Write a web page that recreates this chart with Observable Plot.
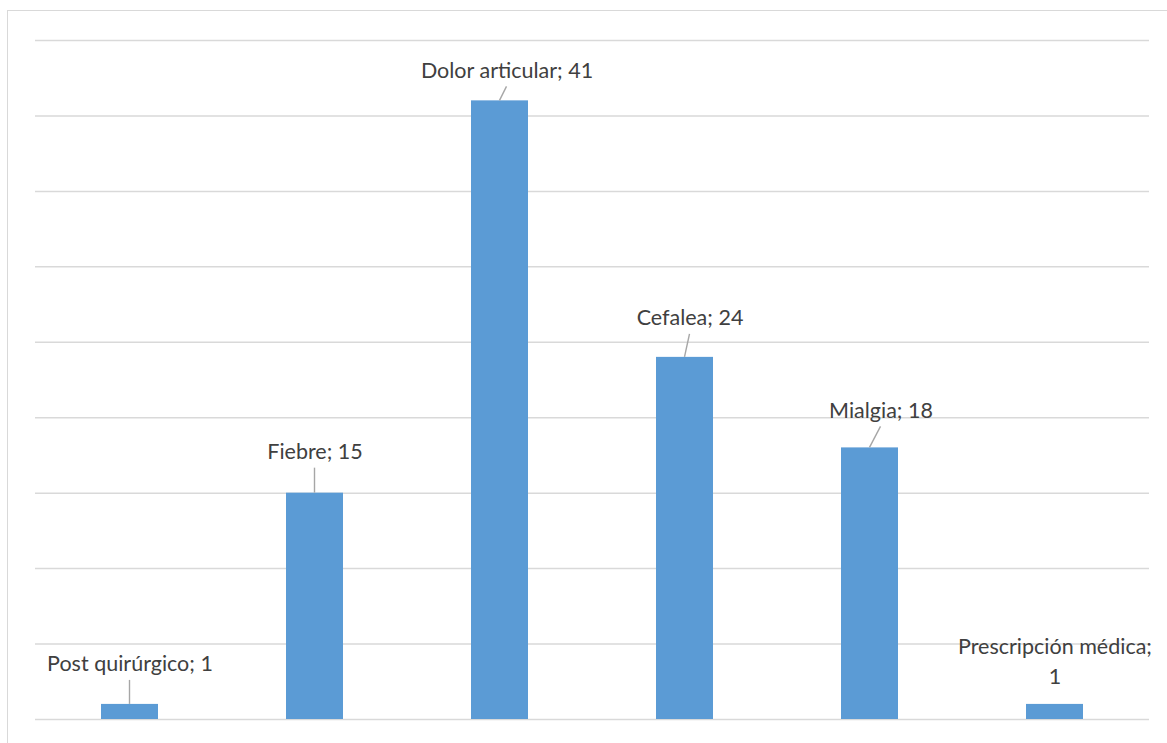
<!DOCTYPE html>
<html>
<head>
<meta charset="utf-8">
<script src="https://cdn.jsdelivr.net/npm/d3@7"></script>
<script src="https://cdn.jsdelivr.net/npm/@observablehq/plot@0.6"></script>
<style>
  body { margin: 0; background: #fff; }
  #wrap { position: relative; width: 1167px; height: 743px; overflow: hidden; }
  #frame { position: absolute; left: 7px; top: 10px; width: 1200px; height: 800px; border: 1.5px solid #d9d9d9; }
  #chart { position: absolute; left: 0; top: 0; }
</style>
</head>
<body>
<div id="wrap"><div id="frame"></div><div id="chart"></div></div>
<script>
// Motivos de consumo: categorías y frecuencias
const categories = ["Post quirúrgico", "Fiebre", "Dolor articular", "Cefalea", "Mialgia", "Prescripción médica"];
const counts = [1, 15, 41, 24, 18, 1];
const separators = [" ", " ", " ", " ", " ", "\n"];
const gridTicks = [0, 5, 10, 15, 20, 25, 30, 35, 40, 45];

// hand-placed label nudges (pixels) and whether a leader line is drawn
const labelDx = [0, 0, 7, 5, 11, 0];
const labelDy = [-43, -44, -33, -42, -40, -45];
const hasLeader = [true, true, true, true, true, false];

const rows = categories.map((c, i) => ({
  category: c,
  count: counts[i],
  label: `${c};${separators[i]}${counts[i]}`,
  dx: labelDx[i],
  dy: labelDy[i],
  leader: hasLeader[i]
}));

const font = "Lato, 'Open Sans', sans-serif";
const textColor = "#404040";

// leader lines from the top of each bar to just under its label
function leaders(index, scales) {
  const x = scales.x, y = scales.y;
  const bw = typeof x.bandwidth === "function" ? x.bandwidth() : x.bandwidth;
  const g = d3.create("svg:g").attr("stroke", "#a6a6a6").attr("stroke-width", 1.4);
  rows.forEach(r => {
    if (!r.leader) return;
    const cx = x(r.category) + bw / 2;
    const top = y(r.count);
    g.append("line")
      .attr("x1", cx).attr("y1", top)
      .attr("x2", cx + r.dx).attr("y2", top + r.dy + 19);
  });
  return g.node();
}

const chart = Plot.plot({
  width: 1167,
  height: 743,
  marginLeft: 35,
  marginRight: 18,
  marginTop: 40,
  marginBottom: 24,
  style: { background: "transparent", fontFamily: font },
  x: { domain: categories, paddingInner: 0.69, paddingOuter: 0.345, axis: null },
  y: { domain: [0, 45], axis: null },
  marks: [
    Plot.ruleY(gridTicks, { stroke: "#d9d9d9", strokeWidth: 1.5 }),
    Plot.barY(rows, { x: "category", y: "count", fill: "#5b9bd5" }),
    leaders,
    ...rows.map(r => Plot.text([r], {
      x: "category",
      y: "count",
      text: "label",
      dx: r.dx,
      dy: r.dy,
      fill: textColor,
      fontSize: 21.5,
      lineHeight: 1.42,
      fontFamily: font
    }))
  ]
});

document.getElementById("chart").appendChild(chart);
</script>
</body>
</html>
